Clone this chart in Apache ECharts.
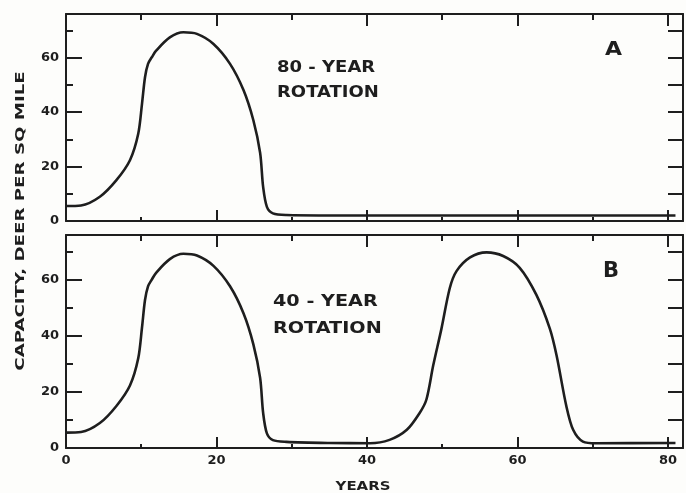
<!DOCTYPE html>
<html>
<head>
<meta charset="utf-8">
<script src="https://cdn.jsdelivr.net/npm/echarts@6/dist/echarts.min.js"></script>
<style>
  html, body { margin: 0; padding: 0; background: #fdfdfb; }
  #chart { width: 686px; height: 493px; }
</style>
</head>
<body>
<div id="chart"></div>
<script>
// panel A - 80 year rotation
const yearsA = [0, 2, 4.5, 6.7, 8.5, 9.6, 10.1, 10.5, 10.9, 11.4, 12, 13.8, 15.6, 17.4, 19.6, 21.8, 23.6, 24.9, 25.8, 26.2, 26.7, 27.5, 29.3, 40, 60, 81]
const capA = [5.5, 5.7, 8.9, 15, 22.3, 32, 43, 52.8, 57.7, 60.1, 62.6, 67.4, 69.3, 68.7, 65, 57.7, 48, 37, 25, 12.5, 5.2, 2.8, 2.2, 2, 2, 2]
// panel B - 40 year rotation
const yearsB = [0, 2, 4.5, 6.7, 8.5, 9.6, 10.1, 10.5, 10.9, 11.4, 12, 13.8, 15.6, 17.4, 19.6, 21.8, 23.6, 24.9, 25.8, 26.2, 26.7, 27.5, 29.3, 35, 40.4, 43, 45.3, 47, 47.9, 48.8, 49.9, 51, 51.9, 53.7, 55.9, 58.1, 60.3, 62.5, 64.3, 65.2, 66.5, 67.4, 68.7, 70.5, 81]
const capB = [5.5, 5.7, 8.9, 15, 22.3, 32, 43, 52.8, 57.7, 60.1, 62.6, 67.4, 69.3, 68.7, 65, 57.7, 48, 37, 25, 12.5, 5.2, 2.8, 2.2, 1.8, 1.7, 2.9, 6.5, 12.5, 17.3, 29.4, 42.6, 57, 63.1, 68, 69.8, 68.5, 64.3, 54.7, 42.6, 33, 14.9, 6.5, 2.3, 1.7, 1.8]
const xLabels = [0, 20, 40, 60, 80]
const yLabels = [0, 20, 40, 60]

const ink = '#1e1e1e'
const XMAX = 82
const YMAX = 76

const chart = echarts.init(document.getElementById('chart'))

function tick(len) {
  return { inside: true, length: len, lineStyle: { color: ink, width: 2 } }
}

function xAxes(grid, withLabels) {
  const base = { type: 'value', gridIndex: grid, min: 0, max: XMAX, splitLine: { show: false } }
  const line = { show: true, onZero: false, lineStyle: { color: ink, width: 2 } }
  const noLine = { show: false, onZero: false }
  return [
    Object.assign({}, base, {
      position: 'bottom', interval: 20, axisLine: line, axisTick: tick(11),
      axisLabel: {
        show: withLabels, color: ink, fontSize: 13, margin: 6,
        fontFamily: 'DejaVu Sans', fontWeight: 'bold',
        formatter: v => xLabels.indexOf(v) >= 0 ? String(v) : ''
      }
    }),
    Object.assign({}, base, {
      position: 'bottom', interval: 10, axisLine: noLine, axisTick: tick(4),
      axisLabel: { show: false }
    }),
    Object.assign({}, base, {
      position: 'top', interval: 20, axisLine: line, axisTick: tick(12),
      axisLabel: { show: false }
    }),
    Object.assign({}, base, {
      position: 'top', interval: 10, axisLine: noLine, axisTick: tick(6),
      axisLabel: { show: false }
    })
  ]
}

function yAxes(grid) {
  const base = { type: 'value', gridIndex: grid, min: 0, max: YMAX, splitLine: { show: false } }
  return [
    Object.assign({}, base, {
      position: 'left', interval: 20,
      axisLine: { show: true, onZero: false, lineStyle: { color: ink, width: 2 } },
      axisTick: tick(16),
      axisLabel: {
        color: ink, fontSize: 13, margin: 7, fontFamily: 'DejaVu Sans', fontWeight: 'bold',
        formatter: v => yLabels.indexOf(v) >= 0 ? String(v) : ''
      }
    }),
    Object.assign({}, base, {
      position: 'left', interval: 10,
      axisLine: { show: false, onZero: false },
      axisTick: tick(7),
      axisLabel: { show: false }
    }),
    Object.assign({}, base, {
      position: 'right', interval: 10,
      axisLine: { show: true, onZero: false, lineStyle: { color: ink, width: 2 } },
      axisTick: tick(15),
      axisLabel: { show: false }
    })
  ]
}

function zip(xs, ys) {
  return xs.map((x, i) => [x, ys[i]])
}

const labelFont = 'bold 15px "DejaVu Sans"'

const option = {
  backgroundColor: '#fdfdfb',
  animation: false,
  grid: [
    { left: 66, right: 3, top: 14, height: 207 },
    { left: 66, right: 3, top: 235, height: 213 }
  ],
  xAxis: xAxes(0, false).concat(xAxes(1, true)),
  yAxis: yAxes(0).concat(yAxes(1)),
  series: [
    {
      type: 'line', xAxisIndex: 0, yAxisIndex: 0,
      data: zip(yearsA, capA), smooth: 0.3, symbol: 'none',
      lineStyle: { color: ink, width: 2.6 }
    },
    {
      type: 'line', xAxisIndex: 4, yAxisIndex: 3,
      data: zip(yearsB, capB), smooth: 0.3, symbol: 'none',
      lineStyle: { color: ink, width: 2.6 }
    }
  ],
  graphic: [
    // panel texts
    {
      type: 'text', x: 277, y: 56, scaleX: 1.2,
      style: { text: '80 - YEAR\nROTATION', font: labelFont, fill: ink, lineHeight: 25 }
    },
    {
      type: 'text', x: 605, y: 40, scaleX: 1.1,
      style: { text: 'A', font: 'bold 20px "DejaVu Sans"', fill: ink }
    },
    {
      type: 'text', x: 273, y: 289, scaleX: 1.28,
      style: { text: '40 - YEAR\nROTATION', font: labelFont, fill: ink, lineHeight: 27 }
    },
    {
      type: 'text', x: 603, y: 261,
      style: { text: 'B', font: 'bold 21px "DejaVu Sans"', fill: ink }
    },
    // axis titles
    {
      type: 'text', x: 363, y: 480, scaleX: 1.15,
      style: { text: 'YEARS', font: 'bold 13px "DejaVu Sans"', fill: ink, textAlign: 'center' }
    },
    {
      type: 'text', x: 21, y: 221, rotation: Math.PI / 2, scaleX: 1.4,
      style: {
        text: 'CAPACITY, DEER PER SQ MILE', font: 'bold 13px "DejaVu Sans"', fill: ink,
        textAlign: 'center', textVerticalAlign: 'middle'
      }
    }
  ]
}

chart.setOption(option)
</script>
</body>
</html>
